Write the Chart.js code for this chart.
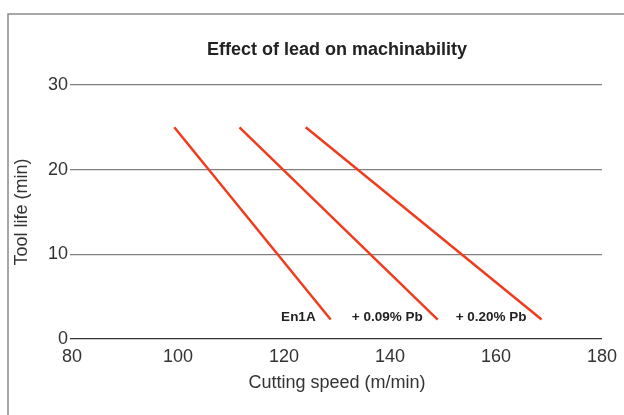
<!DOCTYPE html>
<html>
<head>
<meta charset="utf-8">
<script src="https://cdn.jsdelivr.net/npm/chart.js@4/dist/chart.umd.min.js"></script>
<style>
  html, body { margin: 0; padding: 0; background: #fff; }
  #wrap { position: relative; width: 624px; height: 415px; }
</style>
</head>
<body>
<div id="wrap"><canvas id="chart" width="624" height="415"></canvas></div>
<script>
// values
const seriesNames = ['En1A', '+ 0.09% Pb', '+ 0.20% Pb'];
const speedEn1A = [99.3, 128.8];
const lifeEn1A = [25, 2.3];
const speedPb009 = [111.6, 149];
const lifePb009 = [25, 2.3];
const speedPb020 = [124.1, 168.6];
const lifePb020 = [25, 2.3];
const xTicks = [80, 100, 120, 140, 160, 180];
const yTicks = [0, 10, 20, 30];

const lineRed = '#f03c1e';
const fontFamily = '"Liberation Sans", Arial, Helvetica, sans-serif';

function points(xs, ys) {
    return xs.map(function(x, i){ return { x: x, y: ys[i] }; });
}

const frame = {
    id: 'frame',
    beforeDraw: function(chart){
        const c = chart.ctx;
        c.save();
        c.strokeStyle = '#8a8a8a';
        c.lineWidth = 1.5;
        c.beginPath();
        c.moveTo(8, 900);
        c.lineTo(8, 14);
        c.lineTo(900, 14);
        c.stroke();
        c.restore();
    }
};

// series name written just left of where each line ends
const endLabels = {
    id: 'endLabels',
    afterDatasetsDraw: function(chart){
        const c = chart.ctx;
        c.save();
        c.font = 'bold 13.5px ' + fontFamily;
        c.fillStyle = '#222';
        c.textAlign = 'right';
        c.textBaseline = 'middle';
        chart.data.datasets.forEach(function(ds, i){
            const pts = chart.getDatasetMeta(i).data;
            const last = pts[pts.length - 1];
            c.fillText(ds.label, last.x - 15, last.y - 2);
        });
        c.restore();
    }
};

function lineSet(label, xs, ys) {
    return {
        label: label,
        data: points(xs, ys),
        showLine: true,
        borderColor: lineRed,
        borderWidth: 2.5,
        pointRadius: 0,
        pointHoverRadius: 0,
        fill: false
    };
}

new Chart(document.getElementById('chart'), {
    type: 'scatter',
    data: {
        datasets: [
            lineSet(seriesNames[0], speedEn1A, lifeEn1A),
            lineSet(seriesNames[1], speedPb009, lifePb009),
            lineSet(seriesNames[2], speedPb020, lifePb020)
        ]
    },
    options: {
        responsive: false,
        animation: false,
        events: [],
        layout: { padding: { left: 0, right: 17, top: 0, bottom: 0 } },
        plugins: {
            legend: { display: false },
            tooltip: { enabled: false },
            title: {
                display: true,
                fullSize: false,
                text: 'Effect of lead on machinability',
                color: '#222',
                font: { family: fontFamily, size: 18, weight: 'bold', lineHeight: 1.2 },
                padding: { top: 39, bottom: 24.4 }
            }
        },
        scales: {
            x: {
                type: 'linear',
                min: 80,
                max: 180,
                afterBuildTicks: function(scale){
                    scale.ticks = xTicks.map(function(v){ return { value: v }; });
                },
                afterFit: function(scale){ scale.height = 76; },
                grid: { display: false, drawTicks: false },
                border: { display: false },
                ticks: {
                    color: '#333',
                    padding: 7,
                    maxRotation: 0,
                    font: { family: fontFamily, size: 18, lineHeight: 1.2 }
                },
                title: {
                    display: true,
                    text: 'Cutting speed (m/min)',
                    color: '#333',
                    font: { family: fontFamily, size: 18, lineHeight: 1.2 },
                    padding: { top: 4, bottom: 21 }
                }
            },
            y: {
                type: 'linear',
                min: 0,
                max: 30,
                afterBuildTicks: function(scale){
                    scale.ticks = yTicks.map(function(v){ return { value: v }; });
                },
                afterFit: function(scale){ scale.width = 72; },
                grid: {
                    color: function(ctx){ return ctx.tick && ctx.tick.value === 0 ? '#333' : '#808080'; },
                    lineWidth: 1.3,
                    drawTicks: true,
                    tickLength: 2
                },
                border: { display: false },
                ticks: {
                    color: '#333',
                    padding: 2,
                    font: { family: fontFamily, size: 18, lineHeight: 1.2 }
                },
                title: {
                    display: true,
                    text: 'Tool life (min)',
                    color: '#333',
                    font: { family: fontFamily, size: 18, lineHeight: 1.2 },
                    padding: { top: 11, bottom: 0 }
                }
            }
        }
    },
    plugins: [frame, endLabels]
});
</script>
</body>
</html>
